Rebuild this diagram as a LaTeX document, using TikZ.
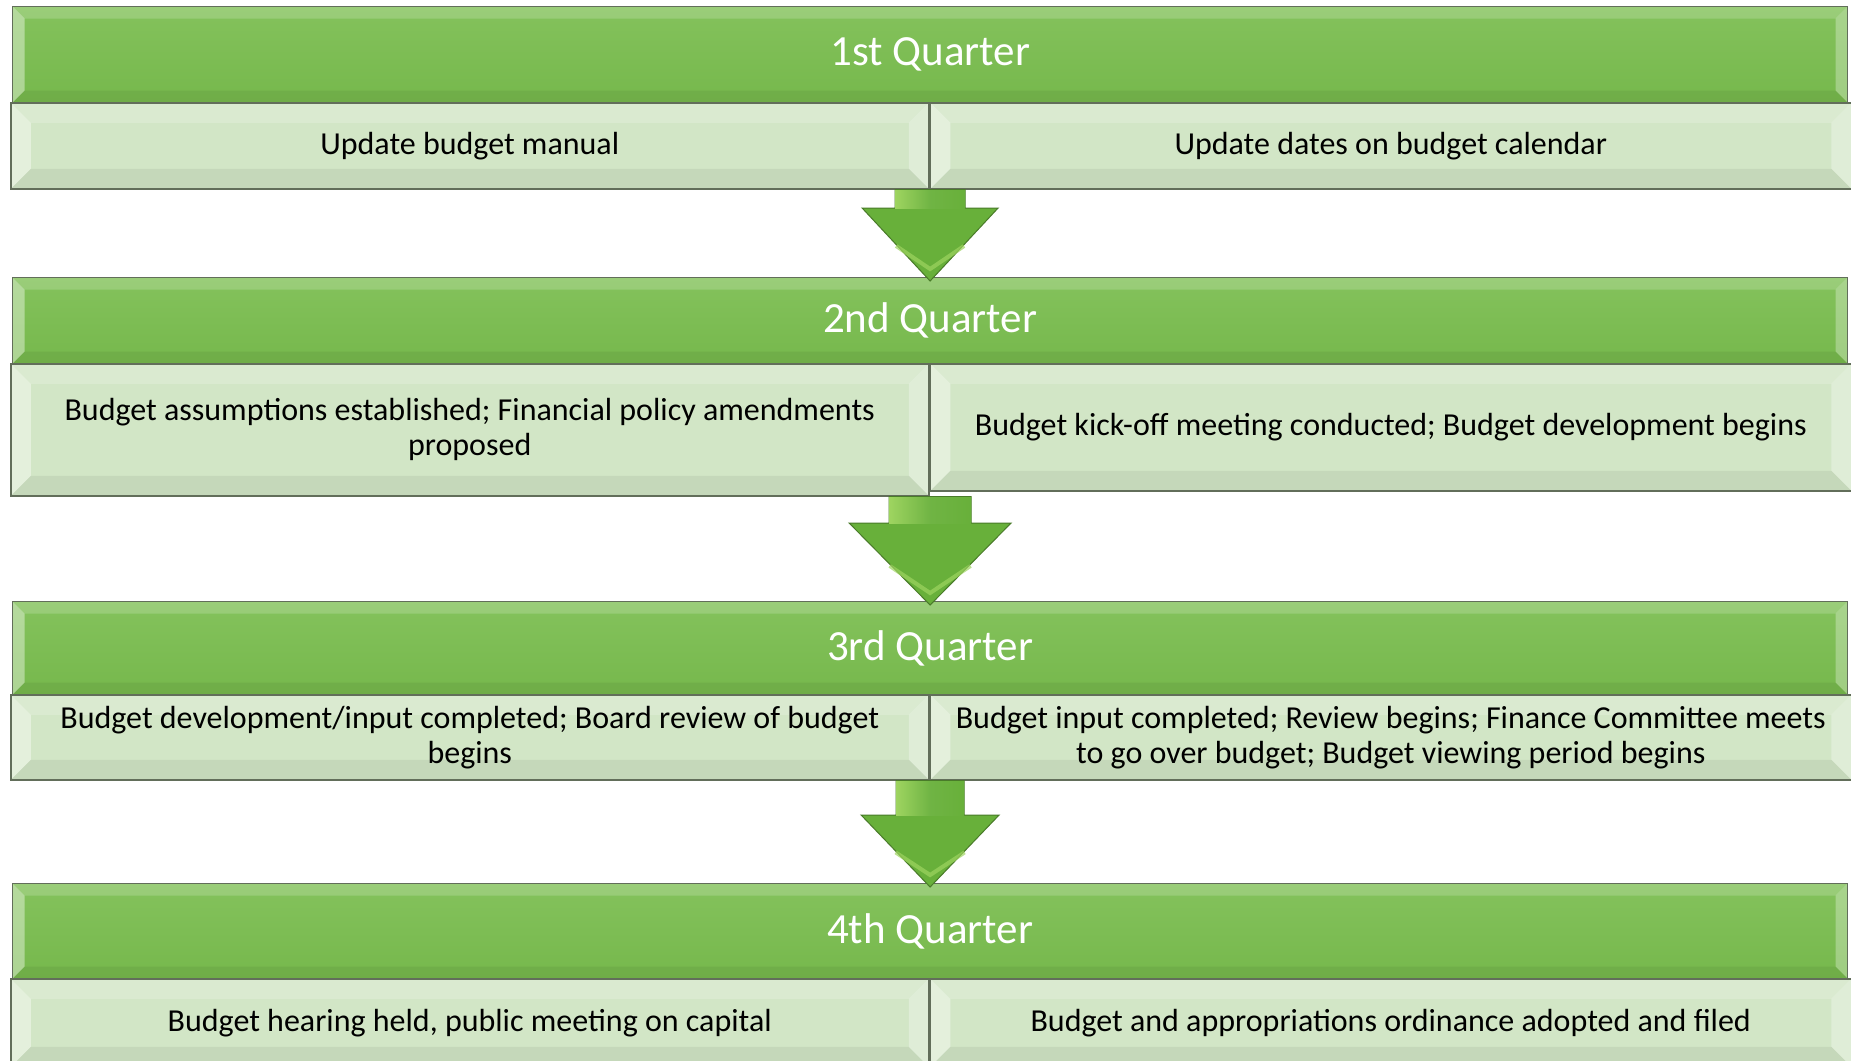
\documentclass[tikz,border=0pt]{standalone}
\usepackage{fontspec}
\setmainfont{Carlito}
\usetikzlibrary{calc,positioning}

\definecolor{qgreen}{RGB}{118,184,76}
\definecolor{qgreenlt}{RGB}{132,194,92}
\definecolor{taskfill}{RGB}{210,230,198}
\definecolor{edgegray}{RGB}{98,110,90}
\definecolor{arrowgreen}{RGB}{104,176,58}
\definecolor{arrowlight}{RGB}{158,212,96}

\tikzset{
  % beveled frame inside a box
  bevel/.style={path picture={
    \coordinate (bnw) at (path picture bounding box.north west);
    \coordinate (bne) at (path picture bounding box.north east);
    \coordinate (bse) at (path picture bounding box.south east);
    \coordinate (bsw) at (path picture bounding box.south west);
    \fill[white,opacity=.18] (bnw) -- (bne) -- ([shift={(-#1,-#1)}]bne) -- ([shift={(#1,-#1)}]bnw) -- cycle;
    \fill[white,opacity=.4] (bnw) -- ([shift={(#1,-#1)}]bnw) -- ([shift={(#1,#1)}]bsw) -- (bsw) -- cycle;
    \fill[white,opacity=.3] (bne) -- (bse) -- ([shift={(-#1,#1)}]bse) -- ([shift={(-#1,-#1)}]bne) -- cycle;
    \fill[black,opacity=.06] (bsw) -- ([shift={(#1,#1)}]bsw) -- ([shift={(-#1,#1)}]bse) -- (bse) -- cycle;
  }},
  quarter/.style={draw=edgegray, line width=.6pt, top color=qgreenlt, bottom color=qgreen,
    text=white, font=\fontsize{21.5}{25}\selectfont, minimum width=917.5pt,
    inner sep=0pt, anchor=north west, bevel=6pt},
  task/.style={draw=edgegray, line width=.75pt, fill=taskfill,
    font=\fontsize{16}{17.5}\selectfont, align=center,
    inner sep=0pt, anchor=north west, bevel=10pt},
}

\begin{document}
\begin{tikzpicture}[x=0.5pt,y=-0.5pt]
  \useasboundingbox (0,0) rectangle (1851,1060);
  \clip (0,0) rectangle (1851,1060);
  \fill[white] (0,0) rectangle (1851,1060);

  % quarter bars
  \node[quarter, minimum height=48pt]   (q1) at (12,6)   {1st Quarter};
  \node[quarter, minimum height=43pt]   (q2) at (12,277) {2nd Quarter};
  \node[quarter, minimum height=46.5pt] (q3) at (12,601) {3rd Quarter};
  \node[quarter, minimum height=47.5pt] (q4) at (12,883) {4th Quarter};

  % tasks of each quarter
  \node[task, minimum width=459pt, minimum height=43pt] (q1a) at (10,102) {Update budget manual};
  \node[task, minimum width=460.5pt, minimum height=43pt, below right=0pt and 0pt of q1a.north east] (q1b) {Update dates on budget calendar};

  \node[task, minimum width=459pt, minimum height=66pt] (q2a) at (10,363) {Budget assumptions established; Financial policy amendments\\proposed};
  \node[task, minimum width=460.5pt, minimum height=63.5pt, below right=0pt and 0pt of q2a.north east] (q2b) {Budget kick-off meeting conducted; Budget development begins};

  \node[task, minimum width=459pt, minimum height=42.5pt] (q3a) at (10,694) {Budget development/input completed; Board review of budget\\begins};
  \node[task, minimum width=460.5pt, minimum height=42.5pt, below right=0pt and 0pt of q3a.north east] (q3b) {Budget input completed; Review begins; Finance Committee meets\\to go over budget; Budget viewing period begins};

  \node[task, minimum width=459pt, minimum height=44pt] (q4a) at (10,978) {Budget hearing held, public meeting on capital};
  \node[task, minimum width=460.5pt, minimum height=44pt, below right=0pt and 0pt of q4a.north east] (q4b) {Budget and appropriations ordinance adopted and filed};

  % block arrows from one quarter to the next
  \foreach \from/\to/\sw/\hw/\hh in {q1a/q2/35/68/69, q2a/q3/41/81/78, q3a/q4/34/69/68}
  {
    \fill[arrowgreen, draw=arrowgreen!70!black, line width=.5pt]
      ($(\to.north |- \from.south)+(-\sw,0)$) -- ($(\to.north)+(-\sw,-\hh)$)
      -- ($(\to.north)+(-\hw,-\hh)$) -- ($(\to.north)+(0,4)$) -- ($(\to.north)+(\hw,-\hh)$)
      -- ($(\to.north)+(\sw,-\hh)$) -- ($(\to.north |- \from.south)+(\sw,0)$) -- cycle;
    \shade[left color=arrowlight, right color=arrowgreen, middle color=arrowgreen!95!white]
      ($(\to.north |- \from.south)+(-\sw,1)$) rectangle ($(\to.north)+(\sw,-\hh)$);
    \draw[arrowlight, line width=2pt, opacity=.7]
      ($(\to.north)+(-\hw*0.5,-\hh*0.45)$) -- ($(\to.north)+(0,-8)$) -- ($(\to.north)+(\hw*0.5,-\hh*0.45)$);
  }
\end{tikzpicture}
\end{document}
